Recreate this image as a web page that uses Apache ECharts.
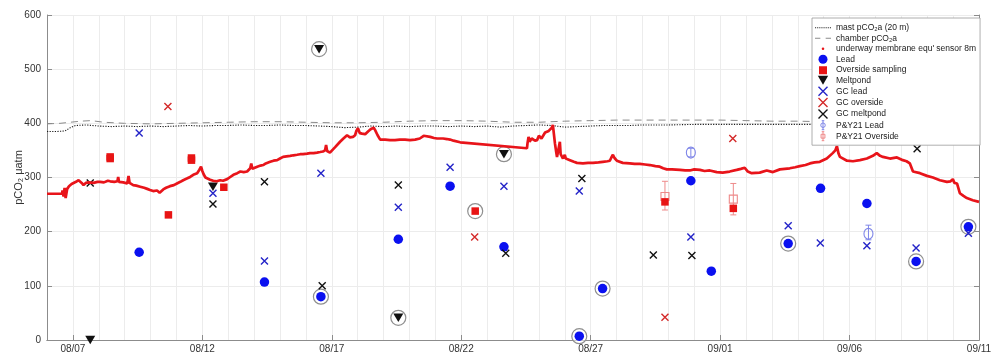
<!DOCTYPE html>
<html>
<head>
<meta charset="utf-8">
<script src="https://cdn.jsdelivr.net/npm/echarts@6/dist/echarts.min.js"></script>
<style>
  html, body { margin: 0; padding: 0; background: #fff; }
  #chart { width: 993px; height: 353px; }
</style>
</head>
<body>
<div id="chart"></div>
<script>
// Time is expressed as day of August (Sep 1 = 32), values in µatm.
const dayTicks = [7, 12, 17, 22, 27, 32, 37, 42];

// mast pCO2a (20 m)
const mastPco2 = [
  [6.0,385],[6.4,385],[6.7,386],[6.9,392],[7.1,396],[7.5,397],[8.0,395],[8.5,394],[9.0,395],[9.5,394],
  [10.0,395],[10.5,394],[11.0,395],[11.5,396],[12.0,395],[12.5,396],[13.0,396],[13.5,397],[14.0,396],[14.5,396],
  [15.0,397],[15.5,396],[16.0,396],[16.5,395],[17.0,394],[17.5,392],[18.0,393],[18.5,395],[19.0,394],[19.5,395],
  [20.0,394],[20.5,395],[21.0,395],[21.5,394],[22.0,395],[22.5,394],[23.0,395],[23.5,393],[24.0,395],[24.5,396],
  [25.0,397],[25.5,396],[26.0,393],[26.5,394],[27.0,395],[27.5,396],[28.0,396],[28.5,396],[29.0,397],[29.5,397],
  [30.0,397],[31.0,398],[32.0,398],[33.0,398],[34.0,398],[35.0,398],[36.0,398],[37.0,398],[38.0,398],[39.0,398],
  [40.0,399],[41.0,399],[42.0,399]
];

// chamber pCO2a
const chamberPco2 = [
  [6.0,399],[6.5,400],[6.9,402],[7.3,404],[7.7,405],[8.2,402],[9.0,400],[10.0,399],[11.0,400],[12.0,401],
  [13.0,402],[14.0,403],[15.0,403],[16.0,402],[17.0,401],[18.0,401],[19.0,402],[20.0,404],[21.0,405],[22.0,405],
  [23.0,404],[24.0,402],[25.0,402],[26.0,404],[27.0,405],[28.0,406],[29.0,406],[30.0,406],[31.0,406],[32.0,406],
  [33.0,405],[34.0,404],[35.0,404],[36.0,403],[37.0,403],[38.0,403],[39.0,403],[40.0,403],[41.0,403],[42.0,403]
];

// underway membrane equilibrator sensor, 8 m
const underwayPco2 = [
  [6.00,270],[6.58,270],[6.60,276],[6.64,265],[6.68,281],[6.72,262],[6.78,279],[6.85,284],[6.95,288],[7.02,289],
  [7.12,292],[7.22,295],[7.28,297],[7.34,290],[7.41,286],[7.50,290],[7.60,291],[7.67,289],[7.80,290],[7.95,292],
  [8.05,292],[8.20,291],[8.35,294],[8.44,293],[8.60,292],[8.72,293],[8.75,301],[8.78,292],[8.83,292],[8.95,291],
  [9.10,289],[9.15,303],[9.19,290],[9.33,286],[9.45,285],[9.60,283],[9.75,281],[9.87,279],[9.98,277],[10.10,275],
  [10.25,276],[10.35,272],[10.49,278],[10.60,281],[10.75,284],[10.90,286],[11.02,289],[11.15,292],[11.26,295],[11.40,298],
  [11.53,301],[11.65,305],[11.80,308],[11.88,314],[11.95,320],[12.00,312],[12.05,306],[12.12,300],[12.19,298],[12.30,296],
  [12.42,294],[12.55,293],[12.69,295],[12.80,294],[12.96,297],[13.05,300],[13.20,305],[13.35,308],[13.47,311],[13.60,310],
  [13.73,311],[13.85,317],[13.89,326],[13.93,316],[14.00,318],[14.12,320],[14.25,322],[14.35,323],[14.45,326],[14.62,329],
  [14.75,331],[14.89,332],[15.00,335],[15.12,338],[15.25,339],[15.39,340],[15.52,341],[15.66,342],[15.78,343],[15.89,343],
  [16.05,344],[16.16,345],[16.30,345],[16.43,346],[16.55,347],[16.66,348],[16.74,350],[16.78,360],[16.82,349],[16.93,346],
  [17.13,356],[17.32,366],[17.45,372],[17.59,378],[17.70,374],[17.82,375],[17.90,378],[17.95,386],[18.01,391],[18.08,382],
  [18.17,381],[18.29,380],[18.40,385],[18.50,389],[18.56,391],[18.62,392],[18.67,388],[18.77,378],[18.87,370],[19.06,370],
  [19.25,369],[19.44,369],[19.63,370],[19.83,370],[20.02,369],[20.22,370],[20.40,372],[20.55,377],[20.61,377],[20.80,375],
  [20.95,373],[21.07,372],[21.30,372],[21.45,371],[21.57,370],[21.70,368],[21.76,366],[21.96,365],[24.54,354],[24.56,363],
  [24.60,375],[24.64,366],[24.72,372],[24.78,375],[24.85,368],[24.93,369],[25.00,377],[25.04,378],[25.10,372],[25.16,372],
  [25.24,383],[25.31,381],[25.38,386],[25.43,388],[25.50,392],[25.54,397],[25.58,380],[25.62,363],[25.66,350],[25.70,338],
  [25.76,340],[25.81,366],[25.84,343],[25.93,335],[26.00,342],[26.04,335],[26.08,333],[26.20,332],[26.35,329],[26.47,327],
  [26.70,326],[26.90,327],[27.09,327],[27.30,328],[27.47,329],[27.65,330],[27.74,331],[27.80,337],[27.86,342],[27.92,336],
  [28.01,331],[28.24,327],[28.51,326],[28.70,325],[28.90,325],[29.10,324],[29.29,323],[29.50,321],[29.67,320],[29.80,317],
  [29.94,315],[30.14,315],[30.45,314],[30.65,313],[30.83,313],[31.00,315],[31.22,314],[31.40,312],[31.60,313],[31.87,310],
  [32.10,309],[32.37,311],[32.64,314],[32.80,316],[32.95,318],[33.07,311],[33.22,308],[33.53,309],[33.80,313],[34.04,310],
  [34.31,315],[34.50,316],[34.69,317],[34.90,319],[35.08,321],[35.30,323],[35.47,326],[35.65,328],[35.85,329],[36.12,335],
  [36.35,345],[36.45,350],[36.51,358],[36.57,345],[36.63,338],[36.90,331],[37.13,330],[37.40,332],[37.67,335],[37.90,340],
  [38.05,345],[38.10,348],[38.18,340],[38.29,338],[38.56,335],[38.83,337],[39.06,332],[39.20,330],[39.33,326],[39.45,311],
  [39.72,308],[39.99,303],[40.22,300],[40.49,295],[40.76,292],[40.90,293],[40.99,297],[41.05,290],[41.15,289],[41.26,271],
  [41.40,266],[41.53,262],[41.76,258],[42.00,255]
];

const leadObs = [
  [9.56,162],[14.40,107],[16.58,80],[19.57,186],[21.57,284],[23.65,172],[26.56,7],[27.46,95],
  [30.87,294],[31.66,127],[34.63,178],[35.88,280],[37.67,252],[39.57,145],[41.59,209]
];
const oversideObs = [
  [8.44,335],[8.44,338],[10.69,231],[11.58,332],[11.58,336],[12.83,282],[22.54,238],[29.87,255],[32.51,243]
];
const meltpondObs = [
  [7.67,0],[12.41,283],[16.51,537],[19.57,41],[23.65,343]
];
const gcLead = [
  [9.56,382],[12.41,271],[14.40,146],[16.58,308],[19.57,245],[21.57,319],[23.65,284],[26.56,275],
  [30.87,190],[34.63,211],[35.87,179],[37.67,174],[39.57,170],[41.59,197]
];
const gcOverside = [
  [10.67,431],[22.52,190],[29.87,42],[32.49,372]
];
const gcMeltpond = [
  [7.67,290],[12.41,251],[14.40,292],[16.63,100],[19.57,286],[23.72,160],[26.66,298],[29.42,157],[30.91,156],[39.61,353]
];
// [day, value, low, high]
const py21Lead = [
  [30.87,346,338,354],[37.73,196,185,212]
];
const py21Overside = [
  [29.87,265,240,293],[32.51,260,231,289]
];
// samples highlighted with a ring
const ringedObs = [
  [16.58,80],[16.51,537],[19.57,41],[22.54,238],[23.65,343],[26.56,7],[27.46,95],[34.63,178],[39.57,145],[41.59,209]
];

const FONT = '"Liberation Sans", Arial, Helvetica, sans-serif';
const AXIS_GREY = '#8c8c8c';
const C = {
  mast: '#1a1a1a', chamber: '#8a8a8a', underway: '#e8141a',
  lead: '#0a10f0', overside: '#e81414', melt: '#111111',
  gcLead: '#2424c8', gcOver: '#d42a2a', gcMelt: '#111111',
  pyLead: '#7f86e8', pyOver: '#ee8a8a'
};

const crossPath = 'path://M0,0L10,10M10,0L0,10';
const downTriPath = 'path://M0,0L10,0L5,8.7Z';

// legend glyphs for the two reference lines: a row of dots and two dashes
let dotGlyph = 'path://';
for (let i = 0; i < 9; i++) dotGlyph += 'M' + (i * 2) + ',0h1v1h-1z';
const dashGlyph = 'path://M0,0h5v1h-5zM10,0h5v1h-5z';

function dayLabel(d) {
  const sep = d > 31;
  const dd = Math.round(sep ? d - 31 : d);
  return (sep ? '09/' : '08/') + String(dd).padStart(2, '0');
}

function errorBarRenderer(color, marker) {
  return function (params, api) {
    const x = api.value(0);
    const p = api.coord([x, api.value(1)]);
    const lo = api.coord([x, api.value(2)]);
    const hi = api.coord([x, api.value(3)]);
    const cap = 3;
    const st = { stroke: color, lineWidth: 1, fill: null };
    const shape = marker === 'circle'
      ? { type: 'ellipse', shape: { cx: p[0], cy: p[1], rx: 4.5, ry: 5.5 }, style: { stroke: color, lineWidth: 1.1, fill: 'rgba(255,255,255,0)' } }
      : { type: 'rect', shape: { x: p[0] - 4, y: p[1] - 4, width: 8, height: 8 }, style: { stroke: color, lineWidth: 1.1, fill: 'rgba(255,255,255,0)' } };
    return {
      type: 'group',
      children: [
        { type: 'line', shape: { x1: lo[0], y1: lo[1], x2: hi[0], y2: hi[1] }, style: st },
        { type: 'line', shape: { x1: lo[0] - cap, y1: lo[1], x2: lo[0] + cap, y2: lo[1] }, style: st },
        { type: 'line', shape: { x1: hi[0] - cap, y1: hi[1], x2: hi[0] + cap, y2: hi[1] }, style: st },
        shape
      ]
    };
  };
}

const chart = echarts.init(document.getElementById('chart'), null, { renderer: 'canvas' });

chart.setOption({
  animation: false,
  textStyle: { fontFamily: FONT },
  grid: { left: 47, right: 14, top: 15, bottom: 13, containLabel: false, outerBoundsMode: 'none' },
  xAxis: [
    {
      type: 'value', position: 'bottom', min: 6, max: 42,
      axisLine: { show: true, lineStyle: { color: AXIS_GREY, width: 1 } },
      axisTick: { show: true, inside: true, length: 5, customValues: dayTicks, lineStyle: { color: AXIS_GREY } },
      axisLabel: { customValues: dayTicks, formatter: dayLabel, color: '#333', fontSize: 10, margin: 4, fontFamily: FONT },
      splitLine: { show: false }
    },
    {
      type: 'value', position: 'top', min: 6, max: 42, interval: 1,
      axisLine: { show: true, lineStyle: { color: AXIS_GREY, width: 1 } },
      axisTick: { show: false },
      axisLabel: { show: false },
      splitLine: { show: true, lineStyle: { color: '#ececec', width: 1 } }
    }
  ],
  yAxis: [
    {
      type: 'value', position: 'left', min: 0, max: 600, interval: 100,
      name: 'pCO₂ μatm', nameLocation: 'middle', nameGap: 23, nameMoveOverlap: false,
      nameTextStyle: { fontSize: 11, color: '#333', fontFamily: FONT },
      axisLine: { show: true, lineStyle: { color: AXIS_GREY, width: 1 } },
      axisTick: { show: true, inside: true, length: 5, lineStyle: { color: AXIS_GREY } },
      axisLabel: { color: '#333', fontSize: 10, margin: 6, fontFamily: FONT },
      splitLine: { show: true, lineStyle: { color: '#ececec', width: 1 } }
    },
    {
      type: 'value', position: 'right', min: 0, max: 600, interval: 100,
      axisLine: { show: true, lineStyle: { color: AXIS_GREY, width: 1 } },
      axisTick: { show: true, inside: true, length: 5, lineStyle: { color: AXIS_GREY } },
      axisLabel: { show: false },
      splitLine: { show: false }
    }
  ],
  legend: {
    orient: 'vertical', left: 812, top: 18,
    padding: [5, 4, 4, 3], itemGap: 1, itemWidth: 16, itemHeight: 9,
    backgroundColor: '#fff', borderColor: '#9a9a9a', borderWidth: 0.8, borderRadius: 0,
    textStyle: { fontSize: 8.5, color: '#1a1a1a', fontFamily: FONT, lineHeight: 9.5 },
    selectedMode: false,
    data: [
      { name: 'mast pCO₂a (20 m)', icon: dotGlyph, itemStyle: { color: C.mast, borderWidth: 0 } },
      { name: 'chamber pCO₂a', icon: dashGlyph, itemStyle: { color: C.chamber, borderWidth: 0 } },
      { name: "underway membrane equ' sensor 8m",
        icon: 'path://M0,0L0,0.01M16,9L16,9.01M6.7,4.5a1.3,1.3 0 1,0 2.6,0a1.3,1.3 0 1,0 -2.6,0Z',
        itemStyle: { color: C.underway, borderWidth: 0 } },
      { name: 'Lead', icon: 'circle', itemStyle: { color: C.lead, opacity: 1 } },
      { name: 'Overside sampling', icon: 'path://M0,0L0,0.01M16,9L16,9.01M4,1H12V9H4Z', itemStyle: { color: C.overside, borderWidth: 0, opacity: 1 } },
      { name: 'Meltpond', icon: downTriPath, itemStyle: { color: C.melt, opacity: 1 } },
      { name: 'GC lead', icon: crossPath, itemStyle: { color: C.gcLead, borderColor: C.gcLead, borderWidth: 1.4, opacity: 1 } },
      { name: 'GC overside', icon: crossPath, itemStyle: { color: C.gcOver, borderColor: C.gcOver, borderWidth: 1.4, opacity: 1 } },
      { name: 'GC meltpond', icon: crossPath, itemStyle: { color: C.gcMelt, borderColor: C.gcMelt, borderWidth: 1.4, opacity: 1 } },
      { name: 'P&Y21 Lead', icon: 'path://M4,0H8M4,14H8M6,0V14M6,3.5A3.5,3.5,0,1,1,6,10.5A3.5,3.5,0,1,1,6,3.5Z',
        itemStyle: { color: 'rgba(255,255,255,0)', borderColor: C.pyLead, borderWidth: 1 } },
      { name: 'P&Y21 Overside', icon: 'path://M4,0H8M4,14H8M6,0V14M3,4H9V10H3Z',
        itemStyle: { color: 'rgba(255,255,255,0)', borderColor: C.pyOver, borderWidth: 1 } }
    ]
  },
  series: [
    {
      name: 'mast pCO₂a (20 m)', type: 'line', data: mastPco2, showSymbol: false, symbol: 'none',
      lineStyle: { color: C.mast, width: 1.1, type: [1.2, 1.4] }, itemStyle: { color: C.mast }
    },
    {
      name: 'chamber pCO₂a', type: 'line', data: chamberPco2, showSymbol: false, symbol: 'none',
      lineStyle: { color: C.chamber, width: 1, type: [7, 5] }, itemStyle: { color: C.chamber }
    },
    {
      name: "underway membrane equ' sensor 8m", type: 'line', data: underwayPco2, showSymbol: false, symbol: 'none',
      lineStyle: { color: C.underway, width: 2.7 }, itemStyle: { color: C.underway }
    },
    {
      name: 'ringed', type: 'scatter', data: ringedObs, symbol: 'circle', symbolSize: 15, clip: false, silent: true,
      itemStyle: { color: 'rgba(255,255,255,0.55)', borderColor: '#8f8f8f', borderWidth: 1.2, opacity: 1 }
    },
    {
      name: 'P&Y21 Lead', type: 'custom', data: py21Lead, encode: { x: 0, y: 1 },
      renderItem: errorBarRenderer(C.pyLead, 'circle'), itemStyle: { color: C.pyLead }, clip: false
    },
    {
      name: 'P&Y21 Overside', type: 'custom', data: py21Overside, encode: { x: 0, y: 1 },
      renderItem: errorBarRenderer(C.pyOver, 'rect'), itemStyle: { color: C.pyOver }, clip: false
    },
    {
      name: 'Lead', type: 'scatter', data: leadObs, symbol: 'circle', symbolSize: 9.5, clip: false,
      itemStyle: { color: C.lead, opacity: 1 }
    },
    {
      name: 'Overside sampling', type: 'scatter', data: oversideObs, symbol: 'rect', symbolSize: 7.5, clip: false,
      itemStyle: { color: C.overside, opacity: 1 }
    },
    {
      name: 'Meltpond', type: 'scatter', data: meltpondObs, symbol: downTriPath, symbolSize: [10, 8.5], clip: false,
      itemStyle: { color: C.melt, opacity: 1 }
    },
    {
      name: 'GC lead', type: 'scatter', data: gcLead, symbol: crossPath, symbolSize: 7, clip: false,
      itemStyle: { color: C.gcLead, borderColor: C.gcLead, borderWidth: 1.4, opacity: 1 }
    },
    {
      name: 'GC overside', type: 'scatter', data: gcOverside, symbol: crossPath, symbolSize: 7, clip: false,
      itemStyle: { color: C.gcOver, borderColor: C.gcOver, borderWidth: 1.4, opacity: 1 }
    },
    {
      name: 'GC meltpond', type: 'scatter', data: gcMeltpond, symbol: crossPath, symbolSize: 7, clip: false,
      itemStyle: { color: C.gcMelt, borderColor: C.gcMelt, borderWidth: 1.4, opacity: 1 }
    }
  ]
});
</script>
</body>
</html>
